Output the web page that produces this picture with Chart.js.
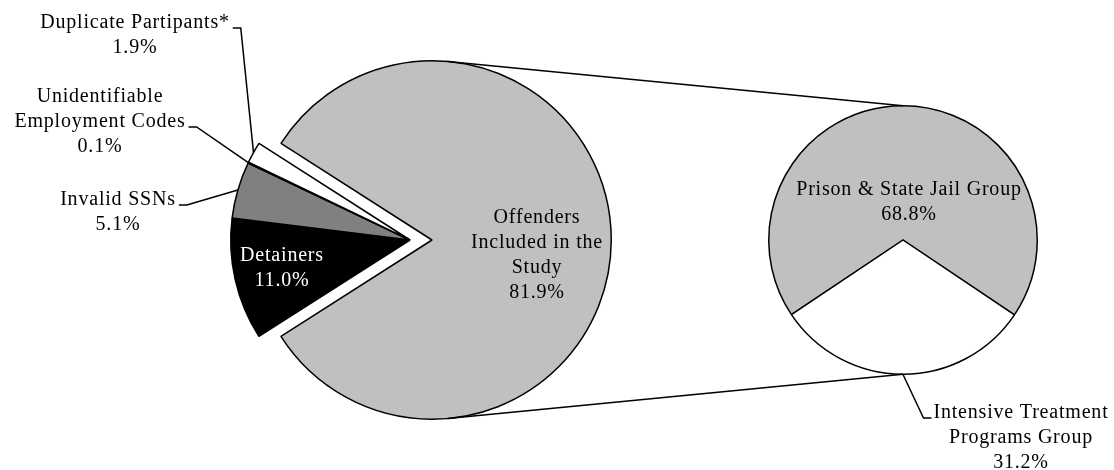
<!DOCTYPE html>
<html>
<head>
<meta charset="utf-8">
<title>Offenders pie of pie</title>
<script src="https://cdn.jsdelivr.net/npm/chart.js@4.4.0/dist/chart.umd.min.js"></script>
<style>
    html, body { margin: 0; padding: 0; background: #fff; }
    #wrap { position: relative; width: 1114px; height: 470px; }
    #wrap canvas { position: absolute; left: 0; top: 0; }
</style>
</head>
<body>
<div id="wrap">
    <canvas id="mainPie" width="1114" height="470"></canvas>
    <canvas id="subPie" width="1114" height="470"></canvas>
</div>
<script>
// main pie (order = clockwise from the upper edge of the big slice)
const mainLabels = [
    ['Offenders', 'Included in the', 'Study'],
    ['Detainers'],
    ['Invalid SSNs'],
    ['Unidentifiable', 'Employment Codes'],
    ['Duplicate Partipants*']
];
const mainValues = [81.9, 11.0, 5.1, 0.1, 1.9];
const mainColors = ['#c0c0c0', '#000000', '#808080', '#ffffff', '#ffffff'];

// breakdown of the big slice
const subLabels = [
    ['Prison & State Jail Group'],
    ['Intensive Treatment', 'Programs Group']
];
const subValues = [68.8, 31.2];
const subColors = ['#c0c0c0', '#ffffff'];

const FONT = '20px "Liberation Serif", "Times New Roman", serif';
const LINE_H = 25;
const GROUP_SHIFT = 22;   // small slices are pulled out to the left together

function pct(v) { return v.toFixed(1) + '%'; }

// draws a multi line label, returns the text box of each line
function drawLabel(ctx, lines, cx, cy, color) {
    ctx.save();
    ctx.font = FONT;
    try { ctx.letterSpacing = '0.8px'; } catch (e) {}
    ctx.fillStyle = color || '#000';
    ctx.textAlign = 'center';
    ctx.textBaseline = 'middle';
    const boxes = [];
    lines.forEach((t, i) => {
        const y = cy + i * LINE_H;
        const w = ctx.measureText(t).width;
        ctx.fillText(t, cx, y);
        boxes.push({ left: cx - w / 2, right: cx + w / 2, y: y });
    });
    ctx.restore();
    return boxes;
}

function leader(ctx, pts) {
    ctx.save();
    ctx.strokeStyle = '#000';
    ctx.lineWidth = 1.5;
    ctx.beginPath();
    ctx.moveTo(pts[0][0], pts[0][1]);
    for (let i = 1; i < pts.length; i++) ctx.lineTo(pts[i][0], pts[i][1]);
    ctx.stroke();
    ctx.restore();
}

// outer mid point of a slice
function edgePoint(arc) {
    const p = arc.getProps(['x', 'y', 'startAngle', 'endAngle', 'outerRadius'], true);
    const a = (p.startAngle + p.endAngle) / 2;
    return [p.x + Math.cos(a) * p.outerRadius, p.y + Math.sin(a) * p.outerRadius];
}

const explodeGroup = {
    id: 'explodeGroup',
    afterDatasetUpdate(chart, args) {
        args.meta.data.forEach((arc, i) => {
            if (i > 0) arc.x -= GROUP_SHIFT;
        });
    }
};

// where each main label sits: centre x, first line y, which line gets the leader
const mainPlace = [
    { x: 537, y: 218 },
    { x: 282, y: 256, color: '#fff' },
    { x: 118, y: 200, lead: 0 },
    { x: 100, y: 97, lead: 1 },
    { x: 135, y: 23, lead: 0 }
];

const mainText = {
    id: 'mainText',
    afterDraw(chart) {
        const ctx = chart.ctx;
        const arcs = chart.getDatasetMeta(0).data;
        mainValues.forEach((v, i) => {
            const pl = mainPlace[i];
            const lines = mainLabels[i].concat([pct(v)]);
            const boxes = drawLabel(ctx, lines, pl.x, pl.y, pl.color);
            if (pl.lead !== undefined) {
                const b = boxes[pl.lead];
                const y = b.y + 5;
                leader(ctx, [[b.right + 3, y], [b.right + 11, y], edgePoint(arcs[i])]);
            }
        });
    }
};

const mainChart = new Chart(document.getElementById('mainPie'), {
    type: 'pie',
    data: {
        labels: mainLabels,
        datasets: [{
            data: mainValues,
            backgroundColor: mainColors,
            borderColor: '#000',
            borderWidth: 1.5
        }]
    },
    options: {
        responsive: false,
        devicePixelRatio: 1,
        animation: false,
        events: [],
        rotation: 302.6,
        layout: { padding: { left: 252, right: 502, top: 60, bottom: 50 } },
        plugins: { legend: { display: false }, tooltip: { enabled: false } }
    },
    plugins: [explodeGroup, mainText]
});

const subPlace = [
    { x: 909, y: 190 },
    { x: 1021, y: 413, lead: 0 }
];

const subText = {
    id: 'subText',
    afterDraw(chart) {
        const ctx = chart.ctx;
        const arcs = chart.getDatasetMeta(0).data;

        // connector lines from the main pie to the breakdown pie
        const m = mainChart.getDatasetMeta(0).data[0];
        const s = arcs[0];
        const a = 85 * Math.PI / 180;
        leader(ctx, [[m.x + Math.cos(a) * m.outerRadius, m.y - Math.sin(a) * m.outerRadius], [s.x, s.y - s.outerRadius]]);
        leader(ctx, [[m.x + Math.cos(a) * m.outerRadius, m.y + Math.sin(a) * m.outerRadius], [s.x, s.y + s.outerRadius]]);

        subValues.forEach((v, i) => {
            const pl = subPlace[i];
            const boxes = drawLabel(ctx, subLabels[i].concat([pct(v)]), pl.x, pl.y);
            if (pl.lead !== undefined) {
                const b = boxes[pl.lead];
                const y = b.y + 5;
                leader(ctx, [[b.left - 2, y], [b.left - 10, y], edgePoint(arcs[i])]);
            }
        });
    }
};

new Chart(document.getElementById('subPie'), {
    type: 'pie',
    data: {
        labels: subLabels,
        datasets: [{
            data: subValues,
            backgroundColor: subColors,
            borderColor: '#000',
            borderWidth: 1.5
        }]
    },
    options: {
        responsive: false,
        devicePixelRatio: 1,
        animation: false,
        events: [],
        rotation: 236.2,
        layout: { padding: { left: 768, right: 76, top: 105, bottom: 95 } },
        plugins: { legend: { display: false }, tooltip: { enabled: false } }
    },
    plugins: [subText]
});
</script>
</body>
</html>
